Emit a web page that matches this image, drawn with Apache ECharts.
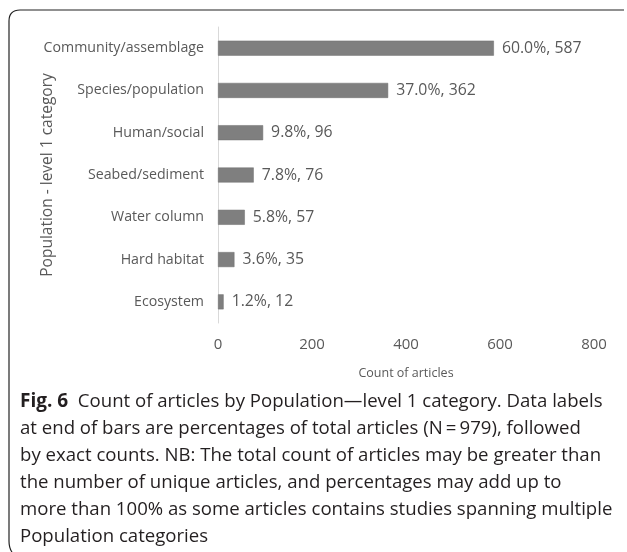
<!DOCTYPE html>
<html>
<head>
<meta charset="utf-8">
<script src="https://cdn.jsdelivr.net/npm/echarts@6/dist/echarts.min.js"></script>
<style>
html,body{margin:0;padding:0;background:#fff;}
#chart{width:627px;height:552px;}
</style>
</head>
<body>
<div id="chart"></div>
<script>
const categories = ["Community/assemblage","Species/population","Human/social","Seabed/sediment","Water column","Hard habitat","Ecosystem"];
const counts = [587, 362, 96, 76, 57, 35, 12];
const percents = ["60.0%", "37.0%", "9.8%", "7.8%", "5.8%", "3.6%", "1.2%"];
const xTicks = [0, 200, 400, 600, 800];
const captionLines = [
  "Count of articles by Population\u2014level 1 category. Data labels",
  "at end of bars are percentages of total articles (N\u2009=\u2009979), followed",
  "by exact counts. NB: The total count of articles may be greater than",
  "the number of unique articles, and percentages may add up to",
  "more than 100% as some articles contains studies spanning multiple",
  "Population categories"
];

const chart = echarts.init(document.getElementById('chart'), null, {renderer:'canvas'});
const labelFont = "'Open Sans', sans-serif";
const captionText = "{b|Fig. 6}  " + captionLines.join("\n");
const frameStyle = {fill: null, stroke: '#222', lineWidth: 1.2};
chart.setOption({
  animation: false,
  backgroundColor: '#ffffff',
  grid: {left: 218, right: 33, top: 27, bottom: 229, containLabel: false},
  xAxis: {
    type: 'value', min: xTicks[0], max: xTicks[xTicks.length-1], interval: 200,
    axisLine: {show: false}, axisTick: {show: false}, splitLine: {show: false},
    axisLabel: {color: '#595959', fontSize: 15, fontFamily: labelFont, margin: 14},
    name: 'Count of articles', nameLocation: 'middle', nameGap: 44,
    nameTextStyle: {color: '#595959', fontSize: 12.5, fontFamily: labelFont}
  },
  yAxis: {
    type: 'category', data: categories, inverse: true,
    axisLine: {show: true, lineStyle: {color: '#d9d9d9', width: 1}},
    axisTick: {show: false},
    axisLabel: {color: '#595959', fontSize: 14.2, fontFamily: labelFont, margin: 14},
    name: 'Population - level 1 category', nameLocation: 'middle', nameGap: 162,
    nameMoveOverlap: false,
    nameTextStyle: {color: '#595959', fontSize: 15.5, fontFamily: labelFont}
  },
  series: [{
    type: 'bar', data: counts, barWidth: 15,
    itemStyle: {color: '#7f7f7f', borderColor: '#6e6e6e', borderWidth: 0.5},
    label: {
      show: true, position: 'right', distance: 8,
      color: '#595959', fontSize: 15.8, fontFamily: labelFont,
      formatter: p => percents[p.dataIndex] + ', ' + counts[p.dataIndex]
    }
  }],
  title: {
    text: captionText, left: 20, top: 388, padding: 0,
    textStyle: {
      color: '#231f20', fontSize: 18.6, fontWeight: 'normal', fontFamily: labelFont, lineHeight: 27,
      rich: {b: {fontWeight: 'bold', fontSize: 19, color: '#231f20', fontFamily: labelFont, lineHeight: 27}}
    }
  },
  graphic: [
    {type: 'polyline', shape: {points: [[9, 541], [9, 21]]}, style: frameStyle},
    {type: 'polyline', shape: {points: [[20, 10], [624, 10]]}, style: frameStyle},
    {type: 'bezierCurve', shape: {x1: 9, y1: 21, cpx1: 9, cpy1: 10, x2: 20, y2: 10}, style: frameStyle},
    {type: 'bezierCurve', shape: {x1: 9, y1: 541, cpx1: 9, cpy1: 548, x2: 12, y2: 552}, style: frameStyle}
  ]
});
</script>
</body>
</html>
